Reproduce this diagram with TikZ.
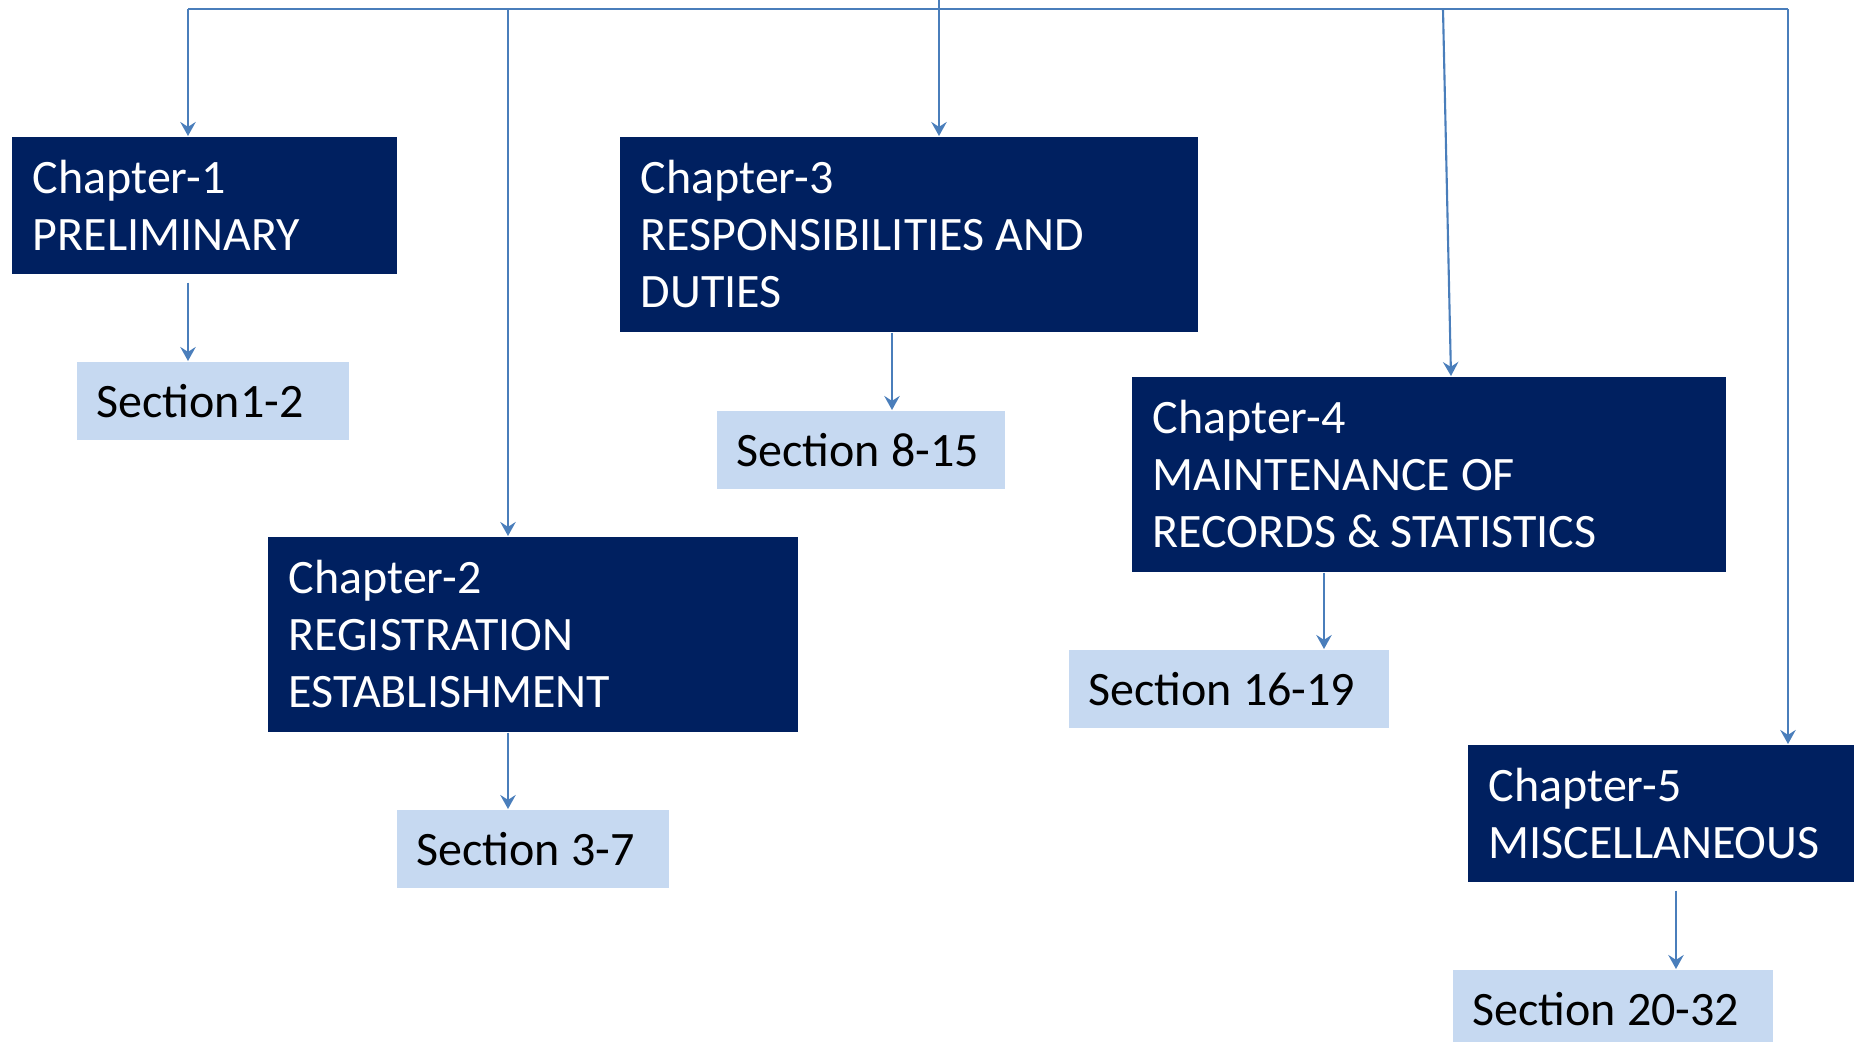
\documentclass[tikz,border=0pt]{standalone}
\usepackage{fontspec}
\setmainfont{Carlito}
\usetikzlibrary{arrows.meta, positioning}
\definecolor{chapblue}{HTML}{002060}
\definecolor{secblue}{HTML}{C6D9F1}
\definecolor{linkblue}{HTML}{4A7EBB}

\begin{document}
\begin{tikzpicture}[x=0.01cm, y=-0.01cm]

% Define styles for the nodes
\tikzstyle{chapter} = [rectangle, anchor=north west, fill=chapblue, text=white, align=flush left, inner xsep=0.21cm, inner ysep=0pt, font=\fontsize{13.65}{16.2}\selectfont]
\tikzstyle{secbox} = [rectangle, anchor=north west, fill=secblue, text=black, align=flush left, inner xsep=0.2cm, inner ysep=0pt, minimum height=0.78cm, font=\fontsize{13.65}{16.2}\selectfont]
\tikzstyle{link} = [draw=linkblue, line width=0.6pt]
\tikzstyle{linkarrow} = [link, -{Stealth[length=4pt, width=4.4pt, inset=1.4pt]}]

\useasboundingbox (0,0) rectangle (1856,1041);
\clip (0,0) rectangle (1856,1041);

% Chapters
\node (ch1) [chapter, text width=3.43cm, minimum height=1.37cm] at (11,136) {Chapter-1\\PRELIMINARY};
\node (ch2) [chapter, text width=4.88cm, minimum height=1.95cm] at (267,536) {Chapter-2\\REGISTRATION\\ESTABLISHMENT};
\node (ch3) [chapter, text width=5.36cm, minimum height=1.95cm] at (619,136) {Chapter-3\\RESPONSIBILITIES AND\\DUTIES};
\node (ch4) [chapter, text width=5.52cm, minimum height=1.95cm] at (1131,376) {Chapter-4\\MAINTENANCE OF\\RECORDS \& STATISTICS};
\node (ch5) [chapter, text width=3.44cm, minimum height=1.37cm] at (1467,744) {Chapter-5\\MISCELLANEOUS};

% Sections
\node (s1) [secbox, text width=2.32cm] at (76,361) {Section1-2};
\node (s2) [secbox, text width=2.32cm] at (396,809) {Section 3-7};
\node (s3) [secbox, text width=2.48cm] at (716,410) {Section 8-15};
\node (s4) [secbox, text width=2.80cm] at (1068,649) {Section 16-19};
\node (s5) [secbox, text width=2.80cm] at (1452,969) {Section 20-32};

% Guide points
\coordinate (top) at (939,0);
\coordinate (busL) at (188,9);
\coordinate (bus2) at (508,9);
\coordinate (bus4) at (1443,9);
\coordinate (busR) at (1788,9);
\coordinate (hit4) at (1451,0);
\coordinate (drop3) at (892,0);
\coordinate (drop4) at (1324,0);
\coordinate (drop5) at (1676,0);

% Arrows from the top line
\draw[link] (busL) -- (busR);
\draw[linkarrow] (busL) -- (busL |- ch1.north);
\draw[linkarrow] (bus2) -- (bus2 |- ch2.north);
\draw[linkarrow] (top) -- (top |- ch3.north);
\draw[linkarrow] (bus4) -- (hit4 |- ch4.north);
\draw[linkarrow] (busR) -- (busR |- ch5.north);

% Arrows to sections
\draw[linkarrow, shorten <=0.08cm] (busL |- ch1.south) -- (busL |- s1.north);
\draw[linkarrow] (bus2 |- ch2.south) -- (bus2 |- s2.north);
\draw[linkarrow] (drop3 |- ch3.south) -- (drop3 |- s3.north);
\draw[linkarrow] (drop4 |- ch4.south) -- (drop4 |- s4.north);
\draw[linkarrow, shorten <=0.08cm] (drop5 |- ch5.south) -- (drop5 |- s5.north);

\end{tikzpicture}
\end{document}
